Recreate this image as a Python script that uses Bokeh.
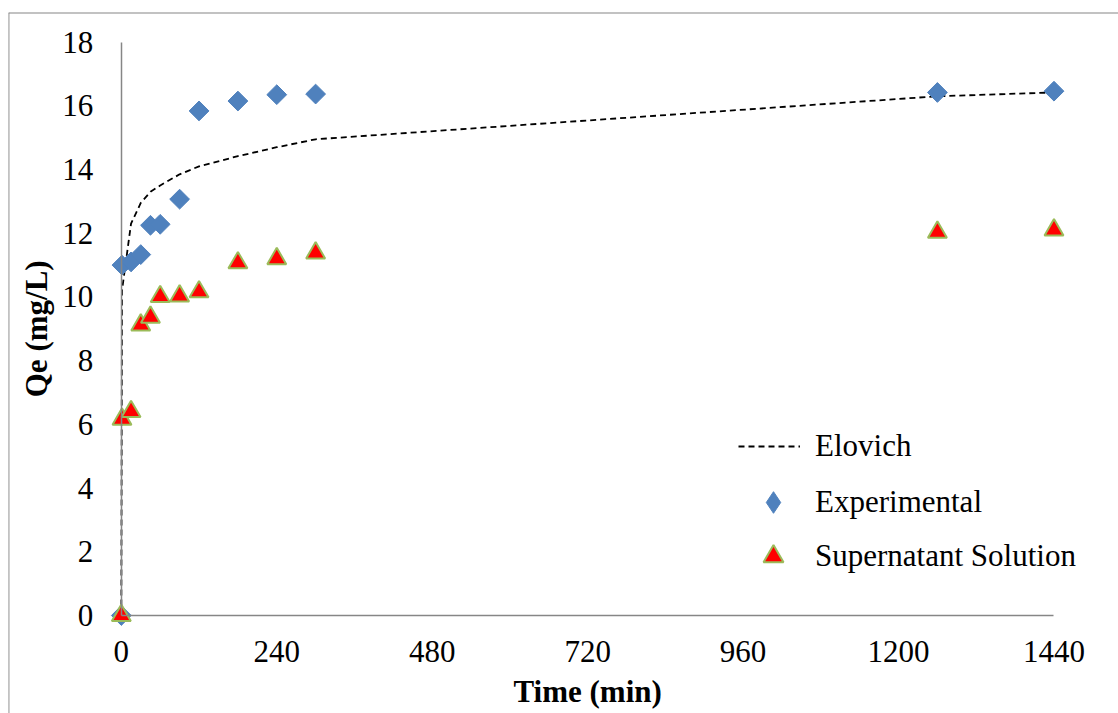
import math
from bokeh.plotting import figure
from bokeh.models import (Range1d, FixedTicker, Span, Label, Legend, LegendItem,
                          ColumnDataSource, CDSView, IndexFilter)
from bokeh.embed import file_html
from bokeh.resources import INLINE

# ---------------- data ----------------
time_min = [0, 1, 15, 30, 45, 60, 90, 120, 180, 240, 300, 1260, 1440]
experimental = [0, 11.0, 11.1, 11.33, 12.25, 12.28, 13.07, 15.84, 16.15, 16.35, 16.37, 16.42, 16.46]
supernatant = [0, 6.16, 6.4, 9.12, 9.36, 10.01, 10.03, 10.16, 11.07, 11.2, 11.38, 12.03, 12.1]
elovich = [0, 10.2, 12.3, 12.95, 13.3, 13.5, 13.85, 14.1, 14.42, 14.7, 14.95, 16.3, 16.42]

x_ticks = [0, 240, 480, 720, 960, 1200, 1440]
y_ticks = [0, 2, 4, 6, 8, 10, 12, 14, 16, 18]

series_names = ["Elovich", "Experimental", "Supernatant Solution"]
x_title = "Time (min)"
y_title = "Qe (mg/L)"

# ---------------- styling ----------------
FONT = "Liberation Serif"
FS = "31px"
GRAY = "#868686"
BLUE = "#4F81BD"

src = ColumnDataSource(dict(t=time_min, exp=experimental, sup=supernatant, elo=elovich))

p = figure(width=1118, height=713, output_backend="svg", toolbar_location=None,
           x_range=Range1d(-174.2, 1539.6), y_range=Range1d(-3.077, 18.93),
           min_border_left=8, min_border_top=12, min_border_right=0, min_border_bottom=0,
           background_fill_color="white", border_fill_color="white")
p.outline_line_color = None
p.grid.visible = False

for ax, ticks, bnds in ((p.xaxis[0], x_ticks, (0, 1440)), (p.yaxis[0], y_ticks, (0, 18))):
    ax.fixed_location = 0
    ax.bounds = bnds
    ax.ticker = FixedTicker(ticks=ticks)
    ax.axis_line_color = GRAY
    ax.axis_line_width = 1.5
    ax.major_tick_line_color = None
    ax.minor_tick_line_color = None
    ax.major_tick_out = 0
    ax.major_tick_in = 0
    ax.major_label_text_font = FONT
    ax.major_label_text_font_size = FS
    ax.major_label_text_color = "black"
p.xaxis[0].major_label_standoff = 26
p.yaxis[0].major_label_standoff = 28

# outer border (left & top visible)
p.add_layout(Span(location=p.x_range.start, dimension="height", line_color=GRAY, line_width=1.8))
p.add_layout(Span(location=p.y_range.end, dimension="width", line_color=GRAY, line_width=1.8))

r_elo = p.line("t", "elo", source=src, line_color="black", line_width=1.8, line_dash="6 4")
# legend key for the diamond series (legend keys ignore marker rotation); it shows
# only the first point, hidden under the rotated-square marker drawn on top of it
r_exp_key = p.scatter("t", "exp", source=src, view=CDSView(filter=IndexFilter(indices=[0])),
                      marker="diamond", size=14, fill_color=BLUE, line_color=BLUE, line_width=1)
r_exp = p.scatter("t", "exp", source=src, marker="square", angle=math.pi / 4, size=14,
                  fill_color=BLUE, line_color=BLUE, line_width=1)
r_sup = p.scatter("t", "sup", source=src, marker="triangle", size=19,
                  fill_color="#FF0000", line_color="#9BBB59", line_width=2)

# axis titles
p.add_layout(Label(x=720, y=-2.40, text=x_title, text_font=FONT, text_font_size=FS,
                   text_font_style="bold", text_color="black",
                   text_align="center", text_baseline="middle"))
p.add_layout(Label(x=-130.9, y=9, text=y_title, text_font=FONT, text_font_size=FS,
                   text_font_style="bold", text_color="black",
                   text_align="center", text_baseline="middle", angle=math.pi / 2))

def mk_legend(name, rend, loc, gw, gh, standoff):
    lg = Legend(items=[LegendItem(label=name, renderers=[rend])], location=loc,
                glyph_width=gw, glyph_height=gh, label_height=34, label_standoff=standoff,
                padding=0, margin=0, spacing=0,
                label_text_font=FONT, label_text_font_size=FS, label_text_color="black",
                background_fill_alpha=0, border_line_alpha=0)
    p.add_layout(lg)

mk_legend(series_names[0], r_elo, (730, 249), 62, 34, 15)
mk_legend(series_names[1], r_exp_key, (738, 184), 54, 54, 15)
mk_legend(series_names[2], r_sup, (740, 132), 50, 50, 17)

open("out.html", "w").write(file_html(p, INLINE))
